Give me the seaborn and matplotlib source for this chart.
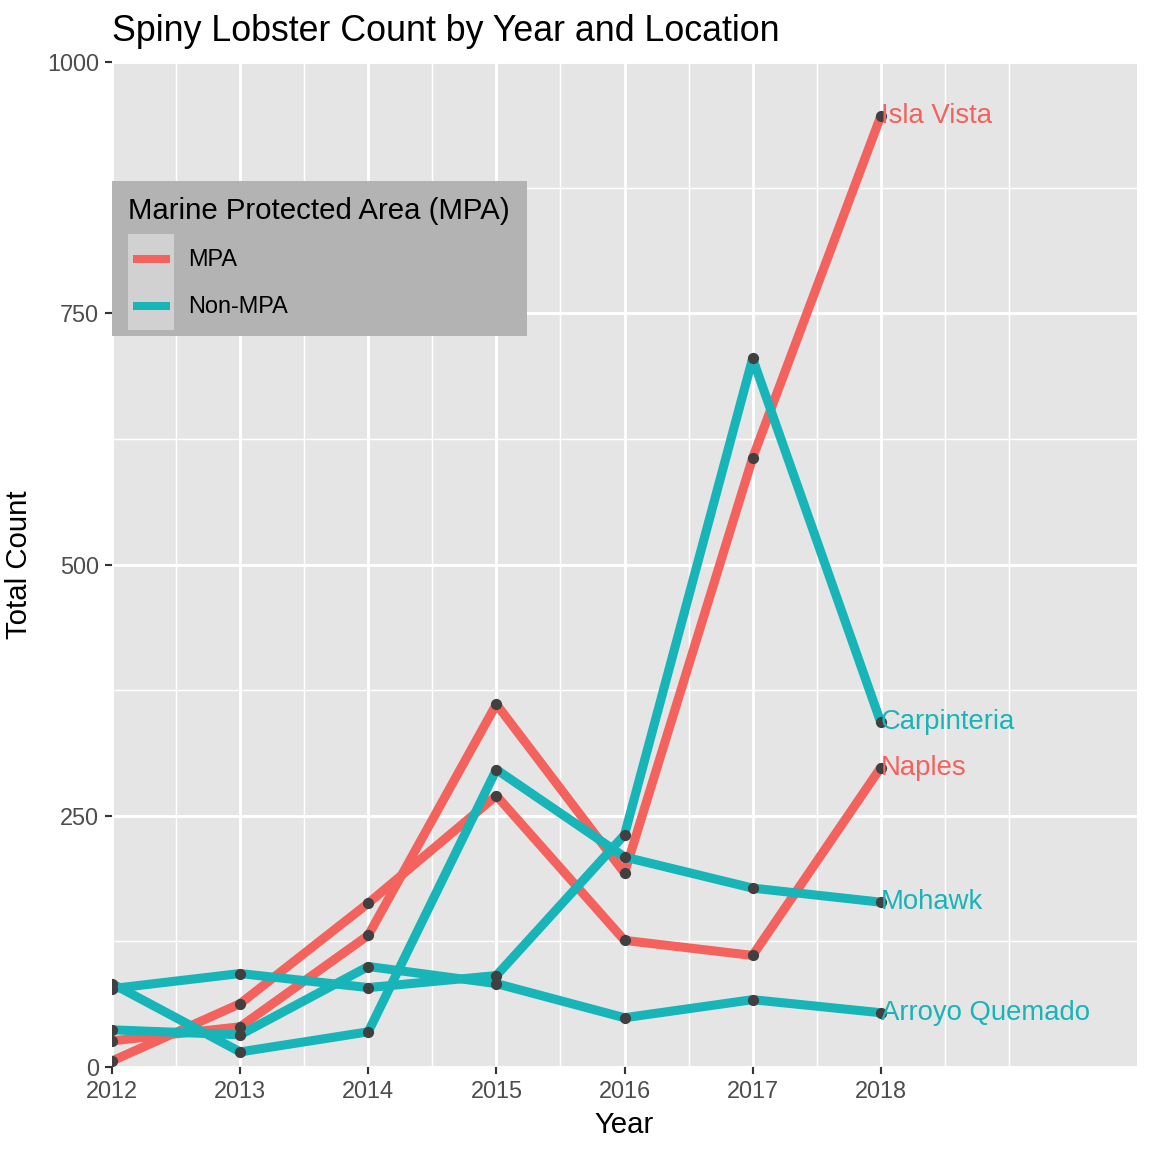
import numpy as np
import pandas as pd
import matplotlib
matplotlib.use("Agg")
import matplotlib.pyplot as plt
from matplotlib.lines import Line2D
from matplotlib.patches import Rectangle
import seaborn as sns

# data
years = [2012, 2013, 2014, 2015, 2016, 2017, 2018]
sites = ["Isla Vista", "Naples", "Carpinteria", "Mohawk", "Arroyo Quemado"]
mpa_status = ["MPA", "MPA", "Non-MPA", "Non-MPA", "Non-MPA"]
isla_vista = [26, 40, 131, 361, 193, 606, 946]
naples = [6, 63, 163, 270, 126, 111, 298]
carpinteria = [78, 93, 79, 91, 231, 705, 343]
mohawk = [83, 15, 35, 296, 209, 178, 164]
arroyo_quemado = [37, 32, 100, 83, 49, 67, 54]

counts = [isla_vista, naples, carpinteria, mohawk, arroyo_quemado]

rows = []
for site, mpa, vals in zip(sites, mpa_status, counts):
    for yr, v in zip(years, vals):
        rows.append({"year": yr, "count": v, "site": site, "mpa": mpa})
df = pd.DataFrame(rows)

palette = {"MPA": "#F4625D", "Non-MPA": "#17B4B8"}

sns.set_style("darkgrid", {"axes.facecolor": "#E5E5E5", "grid.color": "white"})
plt.rcParams["font.family"] = ["Liberation Sans", "DejaVu Sans"]
plt.rcParams["text.color"] = "black"
plt.rcParams["axes.labelcolor"] = "black"


class KeyHandler:
    # ggplot-like legend key: light box behind a thick line
    def legend_artist(self, legend, orig_handle, fontsize, handlebox):
        x0, y0 = handlebox.xdescent, handlebox.ydescent
        w, h = handlebox.width, handlebox.height
        pad = legend.labelspacing * fontsize / 2 + 0.4
        tr = handlebox.get_transform()
        bg = Rectangle((-x0, -y0 - pad), w, h + 2 * pad, facecolor="#D1D1D1",
                       edgecolor="none", transform=tr)
        ln = Line2D([-x0 + 0.1 * w, -x0 + 0.9 * w], [-y0 + h / 2] * 2,
                    color=orig_handle.get_color(), linewidth=orig_handle.get_linewidth(),
                    solid_capstyle="butt", transform=tr)
        handlebox.add_artist(bg)
        handlebox.add_artist(ln)
        return ln


fig = plt.figure(figsize=(6, 6))
fig.subplots_adjust(left=112 / 1152, right=1137 / 1152, bottom=1 - 1067 / 1152, top=1 - 62 / 1152)
ax = fig.add_subplot(111)

sns.lineplot(data=df, x="year", y="count", hue="mpa", units="site", estimator=None,
             palette=palette, linewidth=3.4, legend=False, ax=ax, zorder=2)
ax.scatter(df["year"], df["count"], s=4.2 ** 2, color="#404040", zorder=3, linewidths=0)

for site, mpa, vals in zip(sites, mpa_status, counts):
    ax.text(years[-1], vals[-1], site, color=palette[mpa], fontsize=10.3,
            ha="left", va="center", zorder=4)

ax.set_xlim(2012, 2020)
ax.set_ylim(0, 1000)
ax.set_xticks(years)
ax.set_xticks([2012.5, 2013.5, 2014.5, 2015.5, 2016.5, 2017.5, 2018.5, 2019], minor=True)
ax.set_yticks([0, 250, 500, 750, 1000])
ax.set_yticks([125, 375, 625, 875], minor=True)
ax.grid(which="major", color="white", linewidth=1.07)
ax.grid(which="minor", color="white", linewidth=0.55)
ax.set_axisbelow(True)
for s in ax.spines.values():
    s.set_visible(False)

ax.tick_params(which="major", length=2.75, width=0.8, color="#333333",
               labelsize=8.8, labelcolor="#4D4D4D", pad=2.2, left=True, bottom=True)
ax.tick_params(which="minor", length=0)

ax.set_xlabel("Year", fontsize=11, labelpad=3)
ax.set_ylabel("Total Count", fontsize=11, labelpad=5)
ax.set_title("Spiny Lobster Count by Year and Location", loc="left", fontsize=13.4, pad=8)

handles = [Line2D([], [], color=palette["MPA"], linewidth=3),
           Line2D([], [], color=palette["Non-MPA"], linewidth=3)]
leg = ax.legend(handles=handles, labels=["MPA", "Non-MPA"], title="Marine Protected Area (MPA)",
                loc="upper left", bbox_to_anchor=(0, 0.882), borderaxespad=0,
                frameon=True, facecolor="#B3B3B3", edgecolor="none", framealpha=1, fancybox=False,
                borderpad=0.7, handlelength=1.96, handleheight=1.4, labelspacing=0.85,
                handletextpad=0.6, fontsize=8.8, title_fontsize=11, alignment="left",
                handler_map={Line2D: KeyHandler()})
leg.set_zorder(5)

fig.savefig("out.png", dpi=192)
